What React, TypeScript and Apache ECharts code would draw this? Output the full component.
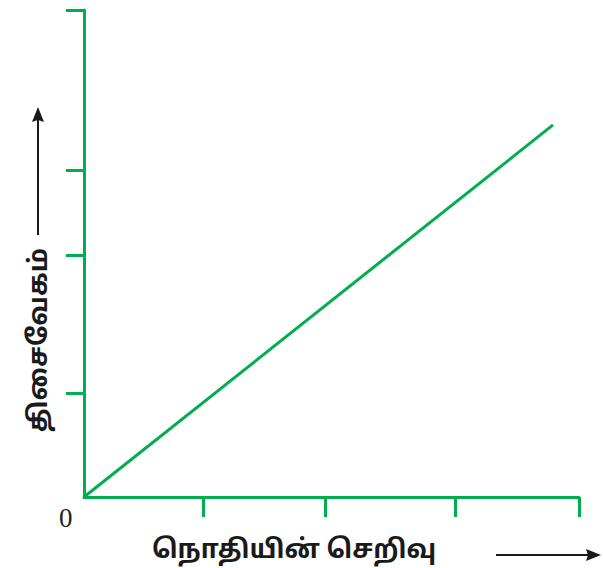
import React, { useEffect, useRef } from "react";
import * as echarts from "echarts";

const xTickValues = [0.96, 1.95, 3.0, 4.0];
const yTickValues = [21.4, 49.7, 67.1, 100];
const lineData: [number, number][] = [
  [0, 0],
  [3.79, 76.4],
];
const xTitle = "நொதியின் செறிவு";
const yTitle = "திசைவேகம்";
const originLabel = "0";

const GREEN = "#00ae4f";
const TAMIL = "'Noto Sans Tamil', 'Lohit Tamil', 'Noto Sans', 'DejaVu Sans', sans-serif";

export default function App() {
  const ref = useRef<HTMLDivElement>(null);
  useEffect(() => {
    if (!ref.current) return;
    const chart = echarts.init(ref.current, undefined, { renderer: "svg" });
    chart.setOption({
      animation: false,
      backgroundColor: "#ffffff",
      grid: { left: 84, top: 10, right: 24, bottom: 71, containLabel: false },
      xAxis: {
        type: "value",
        min: 0,
        max: 4,
        axisLine: { show: true, lineStyle: { color: GREEN, width: 3 } },
        axisTick: { show: true, length: 20, customValues: xTickValues, lineStyle: { color: GREEN, width: 3 } },
        axisLabel: { show: false },
        splitLine: { show: false },
      },
      yAxis: {
        type: "value",
        min: 0,
        max: 100,
        axisLine: { show: true, lineStyle: { color: GREEN, width: 3 } },
        axisTick: { show: true, length: 18, customValues: yTickValues, lineStyle: { color: GREEN, width: 3 } },
        axisLabel: { show: false },
        splitLine: { show: false },
      },
      series: [
        {
          type: "line",
          data: lineData,
          symbol: "none",
          lineStyle: { color: GREEN, width: 3 },
        },
      ],
      graphic: [
        {
          type: "text",
          left: 59,
          top: 504,
          style: { text: originLabel, font: "27px 'Liberation Serif', 'DejaVu Serif', serif", fill: "#222" },
        },
        {
          type: "text",
          x: 294,
          y: 551,
          style: {
            text: xTitle,
            font: `bold 26px ${TAMIL}`,
            fill: "#1a1a1a",
            align: "center",
            verticalAlign: "middle",
          },
        },
        {
          type: "text",
          x: 40,
          y: 340,
          rotation: Math.PI / 2,
          style: {
            text: yTitle,
            font: `bold 26px ${TAMIL}`,
            fill: "#1a1a1a",
            align: "center",
            verticalAlign: "middle",
          },
        },
        // x arrow
        { type: "line", shape: { x1: 496, y1: 555, x2: 590, y2: 555 }, style: { stroke: "#1a1a1a", lineWidth: 2 } },
        { type: "polygon", shape: { points: [[601, 555], [586, 549], [588, 555], [586, 561]] }, style: { fill: "#1a1a1a" } },
        // y arrow
        { type: "line", shape: { x1: 38, y1: 235, x2: 38, y2: 118 }, style: { stroke: "#1a1a1a", lineWidth: 2 } },
        { type: "polygon", shape: { points: [[38, 107], [32, 122], [38, 120], [44, 122]] }, style: { fill: "#1a1a1a" } },
      ],
    });
    return () => chart.dispose();
  }, []);
  return (
    <div
      ref={ref}
      style={{ position: "absolute", left: 0, top: 0, width: 603, height: 568 }}
    />
  );
}
